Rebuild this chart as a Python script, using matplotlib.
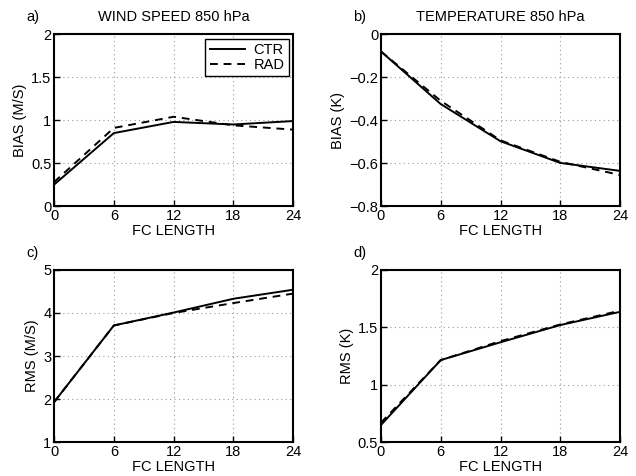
import numpy as np
import matplotlib
matplotlib.use('Agg')
import matplotlib.pyplot as plt

plt.rcParams['font.family'] = ['Liberation Sans', 'DejaVu Sans']
plt.rcParams['font.size'] = 10.5

# forecast length (hours)
fc = [0, 6, 12, 18, 24]

# a) wind speed bias
ws_bias_ctr = [0.25, 0.85, 0.98, 0.95, 0.99]
ws_bias_rad = [0.28, 0.91, 1.04, 0.94, 0.89]
# b) temperature bias
t_bias_ctr = [-0.08, -0.325, -0.498, -0.599, -0.636]
t_bias_rad = [-0.08, -0.31, -0.494, -0.594, -0.655]
# c) wind speed rms
ws_rms_ctr = [1.93, 3.71, 4.01, 4.33, 4.54]
ws_rms_rad = [1.93, 3.71, 4.00, 4.23, 4.45]
# d) temperature rms
t_rms_ctr = [0.65, 1.215, 1.37, 1.52, 1.635]
t_rms_rad = [0.67, 1.215, 1.38, 1.525, 1.645]

panels = [
    ('a)', 'WIND SPEED 850 hPa', 'BIAS (M/S)', ws_bias_ctr, ws_bias_rad, (0, 2), [0, 0.5, 1, 1.5, 2], ['0', '0.5', '1', '1.5', '2']),
    ('b)', 'TEMPERATURE 850 hPa', 'BIAS (K)', t_bias_ctr, t_bias_rad, (-0.8, 0), [-0.8, -0.6, -0.4, -0.2, 0], ['\u22120.8', '\u22120.6', '\u22120.4', '\u22120.2', '0']),
    ('c)', '', 'RMS (M/S)', ws_rms_ctr, ws_rms_rad, (1, 5), [1, 2, 3, 4, 5], ['1', '2', '3', '4', '5']),
    ('d)', '', 'RMS (K)', t_rms_ctr, t_rms_rad, (0.5, 2), [0.5, 1, 1.5, 2], ['0.5', '1', '1.5', '2']),
]

positions = [
    [0.085, 0.567, 0.376, 0.361],
    [0.599, 0.567, 0.376, 0.361],
    [0.085, 0.071, 0.376, 0.362],
    [0.599, 0.071, 0.376, 0.362],
]

fig = plt.figure(figsize=(6.36, 4.76), dpi=100)

for (lab, title, ylab, ctr, rad, ylim, yt, ytl), pos in zip(panels, positions):
    ax = fig.add_axes(pos)
    ax.plot(fc, ctr, color='black', lw=1.4, label='CTR')
    ax.plot(fc, rad, color='black', lw=1.4, ls=(0, (4, 3)), label='RAD')
    ax.set_xlim(0, 24)
    ax.set_ylim(*ylim)
    ax.set_xticks([0, 6, 12, 18, 24])
    ax.set_yticks(yt)
    ax.set_yticklabels(ytl)
    ax.grid(True, color='#999999', ls=(0, (1, 3)), lw=0.8)
    ax.tick_params(direction='in', length=4, width=1, labelsize=10.5, pad=2)
    for s in ax.spines.values():
        s.set_linewidth(1.5)
    ax.set_xlabel('FC LENGTH', fontsize=10.5, labelpad=1)
    ax.set_ylabel(ylab, fontsize=10.5, labelpad=3)
    ax.text(-0.115, 1.1, lab, transform=ax.transAxes, fontsize=10.5, va='center')
    if title:
        ax.text(0.5, 1.1, title, transform=ax.transAxes, fontsize=10.5,
                ha='center', va='center')
    if lab == 'a)':
        leg = ax.legend(loc='upper right', fancybox=False, edgecolor='black',
                        framealpha=1, fontsize=10.5, handlelength=2.4,
                        borderaxespad=0.3, labelspacing=0.05, borderpad=0.3,
                        handletextpad=0.6)
        leg.get_frame().set_linewidth(1.0)

fig.savefig('out.png', dpi=100)
